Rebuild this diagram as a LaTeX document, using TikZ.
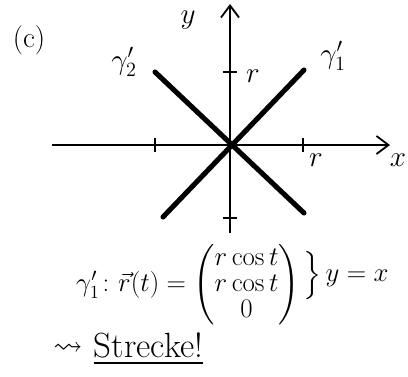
\documentclass[tikz,border=0pt]{standalone}
\usepackage{amsmath,amssymb}
\usepackage{graphicx}
\usepackage{tikz}
\usetikzlibrary{arrows.meta,positioning}

\begin{document}
\begin{tikzpicture}[x=0.025cm,y=-0.025cm,
  axis/.style={line width=1.3pt,black},
  curve/.style={line width=3.6pt,line cap=round,black},
  lbl/.style={font=\huge,inner sep=1pt},
  >={Straight Barb[length=3mm,width=4.5mm,line width=1.3pt]}]
  \useasboundingbox (0,0) rectangle (408,376);
  % axes
  \coordinate (O) at (230,145);
  \coordinate (xl) at (52,145);
  \coordinate (xr) at (390,145);
  \coordinate (yb) at (230,233);
  \coordinate (yt) at (230,4);
  \draw[axis,->] (xl) -- (xr);
  \draw[axis,->] (yb) -- (yt);
  \foreach \p in {155,303} \draw[axis] (\p,138) -- (\p,152);
  \foreach \q in {72,218} \draw[axis] (223,\q) -- (237,\q);
  % the two lines
  \coordinate (a1) at (163,217); \coordinate (b1) at (304,70);
  \coordinate (a2) at (155,72);  \coordinate (b2) at (304,213);
  \draw[curve] (a1) -- (b1);
  \draw[curve] (a2) -- (b2);
  % labels
  \node[lbl] (part) at (29,40) {(c)};
  \node[lbl] (ylab) at (188,20) {$y$};
  \node[lbl] (xlab) at (398,160) {$x$};
  \node[lbl] (ry) at (253,76) {$r$};
  \node[lbl] (rx) at (316,160) {$r$};
  \node[lbl] (g2) at (124,62) {$\gamma_2'$};
  \node[lbl] (g1) at (333,56) {$\gamma_1'$};
  % parametrisation
  \node[lbl] (eq) at (188,285) {\scalebox{0.92}{$\gamma_1'\colon\vec r(t)=\begin{pmatrix}r\cos t\\[-5pt] r\cos t\\[-5pt] 0\end{pmatrix}$}};
  \node[lbl,right=0pt of eq.east,yshift=7pt] (yx) {\scalebox{0.92}{$\Big\}\,y=x$}};
  \node[lbl] (sq) at (68,349) {$\rightsquigarrow$};
  \node[lbl,font=\Huge,right=2mm of sq] (strecke) {\underline{Strecke!}};
\end{tikzpicture}
\end{document}
